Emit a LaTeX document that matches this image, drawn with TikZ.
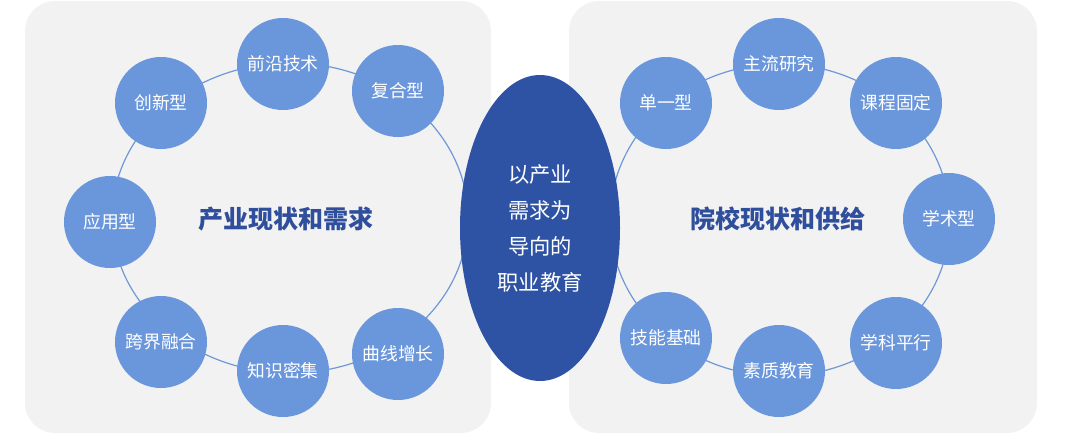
\documentclass[tikz,border=0pt]{standalone}
\usepackage{fontspec}
\usetikzlibrary{shapes.geometric}
\setmainfont{Noto Sans CJK SC}
\newfontfamily\cjk{Noto Sans CJK SC}
\definecolor{panelgray}{HTML}{F2F2F2}
\definecolor{bubble}{HTML}{6A96DB}
\definecolor{ring}{HTML}{6F97D8}
\definecolor{deepblue}{HTML}{2E53A5}
\definecolor{titleblue}{HTML}{2F4E9C}
\begin{document}
\begin{tikzpicture}[x=1pt,y=-1pt,
  panel/.style={fill=panelgray, draw=none, rounded corners=30pt},
  ringline/.style={draw=ring, line width=1.2pt},
  bubblenode/.style={circle, fill=bubble, draw=none, minimum size=92pt, inner sep=0pt,
    text=white, font=\cjk\fontsize{17.8}{20}\selectfont},
  titlenode/.style={text=titleblue, font=\cjk\bfseries\fontsize{25}{28}\selectfont},
  hubnode/.style={ellipse, fill=deepblue, draw=none, minimum width=160pt, minimum height=306pt, inner sep=0pt,
    text=white, align=center, font=\cjk\fontsize{21.3}{36}\selectfont}
]
\useasboundingbox (0,0) rectangle (1080,434);
% panels
\path[panel] (25,1) rectangle (491,433);
\path[panel] (569,1) rectangle (1037,433);
% rings
\draw[ringline] (290,218) ellipse [x radius=178pt, y radius=155pt];
\draw[ringline] (780,220) ellipse [x radius=170pt, y radius=156pt];
% left bubbles
\node[bubblenode] (qy) at (283,64) {前沿技术};
\node[bubblenode] (fh) at (398,91) {复合型};
\node[bubblenode] (cx) at (161,103) {创新型};
\node[bubblenode] (yy) at (110,222) {应用型};
\node[bubblenode] (kj) at (161,342) {跨界融合};
\node[bubblenode] (zs) at (283,371) {知识密集};
\node[bubblenode] (qx) at (398,354) {曲线增长};
\node[titlenode] (lt) at (286,219) {产业现状和需求};
% right bubbles
\node[bubblenode] (dy) at (666,103) {单一型};
\node[bubblenode] (zl) at (779,64) {主流研究};
\node[bubblenode] (kc) at (896,103) {课程固定};
\node[bubblenode] (xs) at (949,219) {学术型};
\node[bubblenode] (xk) at (896,343) {学科平行};
\node[bubblenode] (sz) at (779,371) {素质教育};
\node[bubblenode] (jn) at (666,338) {技能基础};
\node[titlenode] (rt) at (778,219) {院校现状和供给};
% hub
\node[hubnode] (hub) at (540,228) {以产业\\需求为\\导向的\\职业教育};
\end{tikzpicture}
\end{document}
